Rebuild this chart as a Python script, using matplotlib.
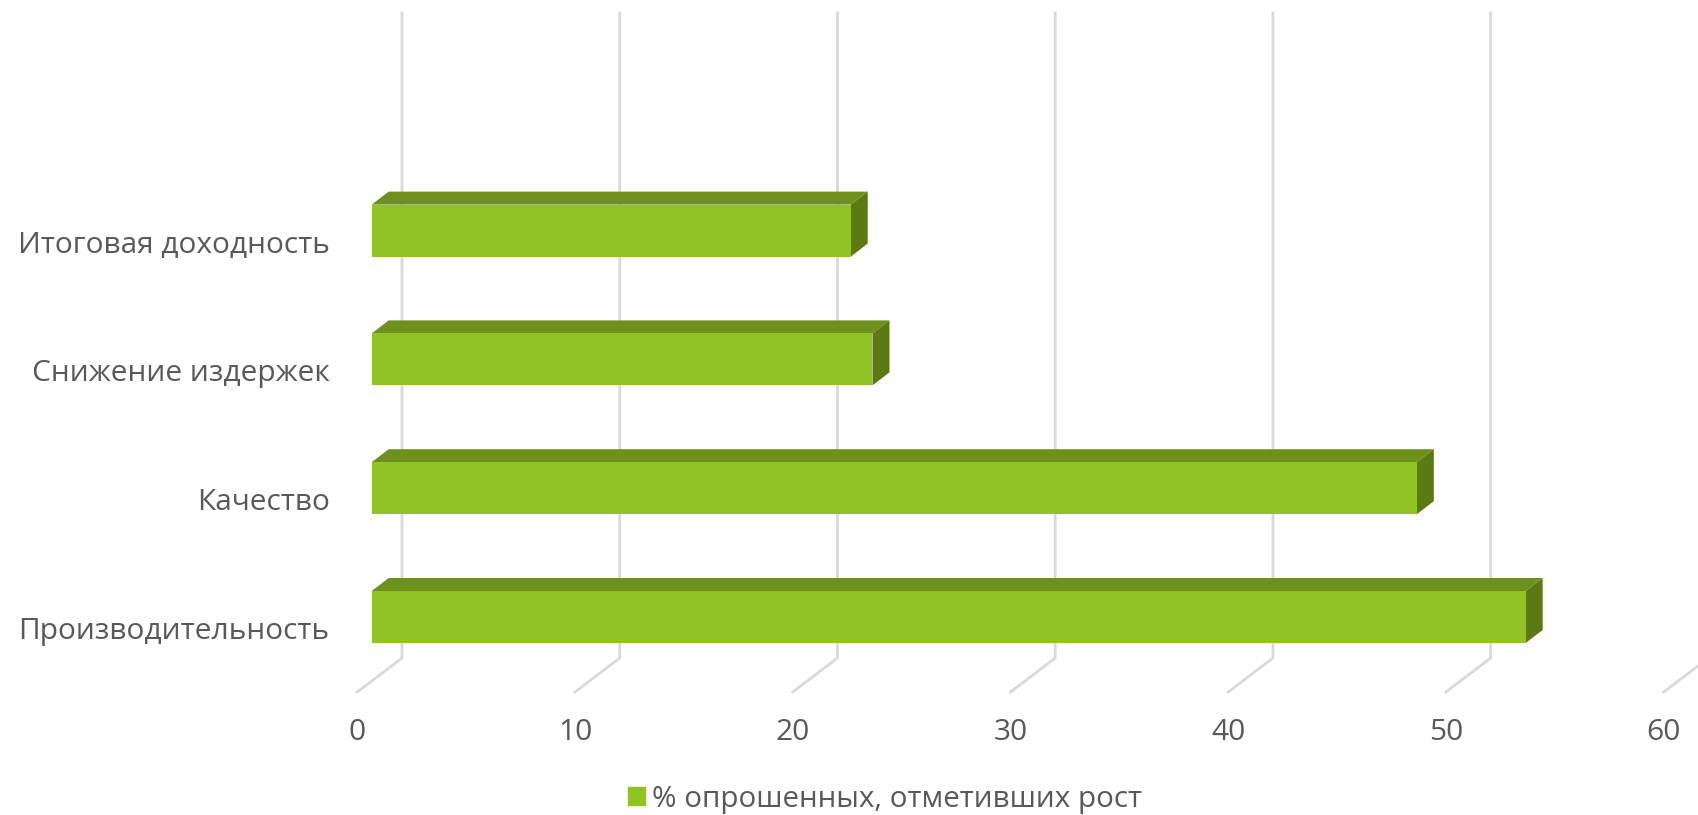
import matplotlib
matplotlib.use("Agg")
import matplotlib.pyplot as plt
from matplotlib.patches import Patch

categories = ["Производительность", "Качество", "Снижение издержек", "Итоговая доходность"]
values = [53, 48, 23, 22]
x_ticks = [0, 10, 20, 30, 40, 50, 60]
legend_label = "% опрошенных, отметивших рост"

W, H = 1698, 815
FONT = "Open Sans"
FS = 21.5
TXT = "#595959"
FACE, TOP, SIDE = "#92C324", "#6E911C", "#5C7A14"
GRID = "#D9D9D9"

fig = plt.figure(figsize=(W / 100, H / 100), dpi=100, facecolor="white")
L, R, B, T = 357.3, 1663.7, 692, 13
ax = fig.add_axes([L / W, (H - B) / H, (R - L) / W, (B - T) / H])
PXX = (R - L) / 60
PXY = 128.8
ax.set_xlim(0, 60)
ax.set_ylim((628 - B) / PXY, (628 - T) / PXY)
y_top, y_floor = ax.get_ylim()[1], ax.get_ylim()[0]

# depth of the 3D box, expressed in data units
wall_dx = 44.7 / PXX
wall_dy = 34 / PXY
box_left = 14.4 / PXX
box_dx = 17 / PXX
box_dy = 13 / PXY
bar_h = 52 / PXY
bar_shift = 11 / PXY

for v in x_ticks:
    ax.plot([v, v + wall_dx, v + wall_dx], [y_floor, y_floor + wall_dy, y_top],
            color=GRID, lw=2.0, solid_joinstyle="miter", clip_on=False, zorder=1)

for i, v in enumerate(values):
    yc = i + bar_shift
    y0, y1 = yc - bar_h / 2, yc + bar_h / 2
    x0, x1 = box_left, box_left + v
    ax.fill([x0, x0 + box_dx, x1 + box_dx, x1], [y1, y1 + box_dy, y1 + box_dy, y1],
            color=TOP, lw=0, zorder=3)
    ax.fill([x1, x1 + box_dx, x1 + box_dx, x1], [y0, y0 + box_dy, y1 + box_dy, y1],
            color=SIDE, lw=0, zorder=3)
    ax.barh(yc, v, left=box_left, height=bar_h, color=FACE, lw=0, zorder=4)

for s in ax.spines.values():
    s.set_visible(False)
ax.patch.set_visible(False)
ax.set_xticks(x_ticks)
ax.set_xticklabels([str(v) for v in x_ticks], fontfamily=FONT, fontsize=FS, color=TXT)
ax.set_yticks(range(len(categories)))
ax.set_yticklabels(categories, fontfamily=FONT, fontsize=FS, color=TXT)
ax.tick_params(axis="both", length=0)
ax.tick_params(axis="x", pad=19)
ax.tick_params(axis="y", pad=20)

fig.legend(handles=[Patch(color=FACE, label=legend_label)], loc="center",
           bbox_to_anchor=(885 / W, (H - 799) / H), frameon=False,
           prop={"family": FONT, "size": 21.3}, labelcolor=TXT,
           handlelength=0.56, handleheight=0.56, handletextpad=0.25)

fig.savefig("out.png", dpi=100, facecolor="white")
